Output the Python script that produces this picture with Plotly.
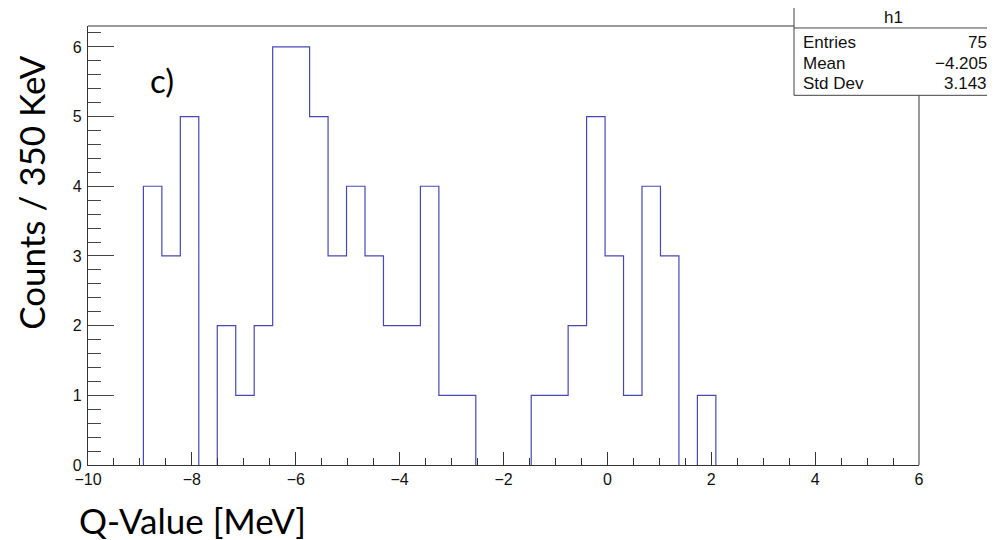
import plotly.graph_objects as go

# ---- data ----
x_min, x_max, n_bins = -10.0, 6.0, 45
counts = [0, 0, 0, 4, 3, 5, 0, 2, 1, 2, 6, 6, 5, 3, 4, 3, 2, 2, 4, 1, 1, 0, 0, 0,
          1, 1, 2, 5, 3, 1, 4, 3, 0, 1, 0, 0, 0, 0, 0, 0, 0, 0, 0, 0, 0]
x_ticks = [-10, -8, -6, -4, -2, 0, 2, 4, 6]
y_ticks = [0, 1, 2, 3, 4, 5, 6]
stats_title = "h1"
stats_rows = [("Entries", "75"), ("Mean", "\u22124.205"), ("Std Dev", "3.143")]

bw = (x_max - x_min) / n_bins
edges = [x_min + i * bw for i in range(n_bins + 1)]

# histogram outline (ROOT style), built from the bin edges and counts
xs, ys = [], []
prev_zero = True
for i, c in enumerate(counts):
    if c > 0:
        if prev_zero:
            xs.append(edges[i]); ys.append(0)
        xs += [edges[i], edges[i + 1]]
        ys += [c, c]
        prev_zero = False
    else:
        if not prev_zero:
            xs += [edges[i], None]; ys += [0, None]
        prev_zero = True
if not prev_zero:
    xs.append(edges[-1]); ys.append(0)

fig = go.Figure()
fig.add_trace(go.Scatter(x=xs, y=ys, mode="lines",
                         line=dict(color="#4848b4", width=1.2),
                         hoverinfo="skip", showlegend=False, connectgaps=False))

tickfont = dict(family="Liberation Sans, Arial, sans-serif", size=16, color="#111")
fig.update_layout(
    width=987, height=532,
    margin=dict(l=80, r=76, t=18, b=75),
    paper_bgcolor="white", plot_bgcolor="white",
    xaxis=dict(range=[x_min, x_max], tickvals=x_ticks, ticks="inside", ticklen=13,
               tickcolor="#333", tickwidth=1, showgrid=False, zeroline=False,
               showline=True, linecolor="#333", linewidth=1.3, tickfont=tickfont,
               layer="above traces",
               minor=dict(dtick=0.5, ticks="inside", ticklen=7, tickcolor="#333", showgrid=False)),
    yaxis=dict(range=[0, 6.3], tickvals=y_ticks, ticks="inside", ticklen=26,
               tickcolor="#444", tickwidth=1, showgrid=False, zeroline=False,
               showline=True, linecolor="#333", linewidth=1.2, tickfont=tickfont,
               ticklabelstandoff=2, layer="above traces",
               minor=dict(dtick=0.2, ticks="inside", ticklen=13, tickcolor="#444", showgrid=False)),
)

# frame lines (top and right)
box_l, box_r, box_t, box_b, box_h = 0.8496, 1.088, 1.0433, 0.8421, 0.9955
fig.add_shape(type="line", xref="paper", yref="paper", x0=0, x1=box_l, y0=1, y1=1,
              line=dict(color="#777", width=1.5))
fig.add_shape(type="line", xref="paper", yref="paper", x0=1, x1=1, y0=0, y1=box_b,
              line=dict(color="#555", width=1.2))
# stats box
fig.add_shape(type="rect", xref="paper", yref="paper", x0=box_l, x1=box_r, y0=box_b, y1=box_t,
              line=dict(color="#444", width=1), fillcolor="white")
fig.add_shape(type="line", xref="paper", yref="paper", x0=box_l, x1=box_r, y0=box_h, y1=box_h,
              line=dict(color="#444", width=1))
sfont = dict(family="Liberation Sans, Arial, sans-serif", size=17, color="#111")
fig.add_annotation(xref="paper", yref="paper", x=(box_l + box_r) / 2, y=(box_t + box_h) / 2,
                   text=stats_title, showarrow=False, font=sfont, xanchor="center", yanchor="middle")
row_y = [0.963, 0.915, 0.868]
for (lab, val), yy in zip(stats_rows, row_y):
    fig.add_annotation(xref="paper", yref="paper", x=box_l + 0.008, y=yy, text=lab,
                       showarrow=False, font=sfont, xanchor="left", yanchor="middle")
    fig.add_annotation(xref="paper", yref="paper", x=box_r - 0.004, y=yy, text=val,
                       showarrow=False, font=sfont, xanchor="right", yanchor="middle")

tfont = dict(family="Lato, Open Sans, sans-serif", size=35, color="black")
fig.add_annotation(xref="paper", yref="paper", x=-0.068, y=0.621, text="Counts / 350 KeV",
                   textangle=-90, showarrow=False, font=tfont, xanchor="center", yanchor="middle")
fig.add_annotation(xref="paper", yref="paper", x=0.126, y=-0.125, text="Q-Value [MeV]",
                   showarrow=False, font=tfont, xanchor="center", yanchor="middle")
fig.add_annotation(xref="paper", yref="paper", x=0.0896, y=0.877, text="c)",
                   showarrow=False, font=dict(family="Lato, Open Sans, sans-serif", size=33, color="black"),
                   xanchor="center", yanchor="middle")

fig.write_html("out.html")
